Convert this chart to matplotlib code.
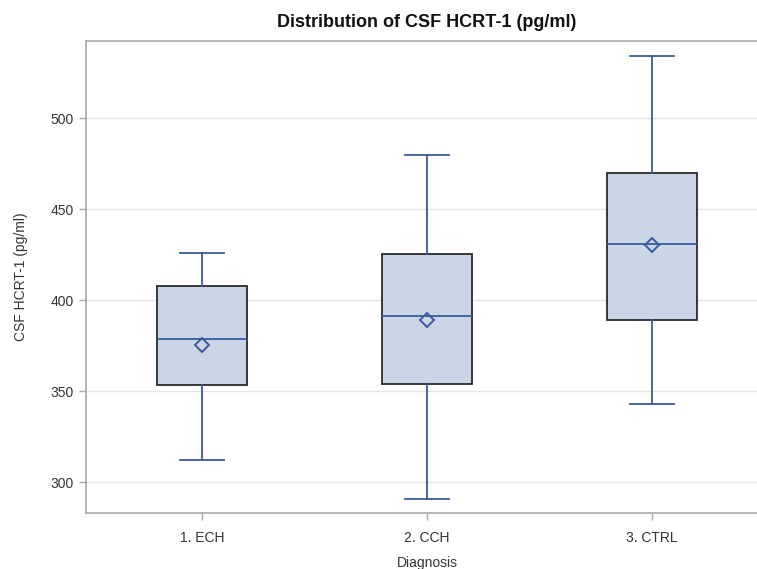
import matplotlib
matplotlib.use("Agg")
import matplotlib.pyplot as plt

categories = ["1. ECH", "2. CCH", "3. CTRL"]
whisker_low = [312, 291, 343]
q1 = [353.5, 354, 389]
median = [378.5, 391.5, 431]
mean = [375.5, 389, 430.5]
q3 = [408, 425.5, 470]
whisker_high = [426, 480, 534]
yticks = [300, 350, 400, 450, 500]

plt.rcParams['font.family'] = ['Liberation Sans', 'DejaVu Sans']

fig = plt.figure(figsize=(7.57, 5.69), dpi=100)
ax = fig.add_axes([86/757, (569-513)/569, (768-86)/757, (513-40.7)/569])

stats = []
for i, c in enumerate(categories):
    stats.append(dict(label=c, whislo=whisker_low[i], q1=q1[i], med=median[i],
                      q3=q3[i], whishi=whisker_high[i], mean=mean[i], fliers=[]))

blue = "#3A5A9E"
ax.bxp(stats, positions=[1, 2, 3], widths=0.4, showmeans=True, showfliers=False,
       patch_artist=True,
       boxprops=dict(facecolor="#CAD5E5", edgecolor="#2A2A2A", linewidth=1.3),
       medianprops=dict(color=blue, linewidth=1.3),
       whiskerprops=dict(color=blue, linewidth=1.3),
       capprops=dict(color=blue, linewidth=1.3),
       capwidths=0.195,
       meanprops=dict(marker='D', markerfacecolor='none', markeredgecolor=blue,
                      markeredgewidth=1.4, markersize=7.5),
       zorder=3)

ax.set_xlim(0.484, 3.516)
ax.set_ylim(283.1, 542.6)
ax.set_yticks(yticks)
ax.set_xticks([1, 2, 3])
ax.set_xticklabels(categories)
ax.yaxis.grid(True, color="#E4E4E4", linewidth=1.0, zorder=0)
ax.set_axisbelow(True)
for s in ax.spines.values():
    s.set_color("#A8A8A8")
    s.set_linewidth(1.2)
ax.tick_params(axis='both', colors="#A8A8A8", labelcolor="#333333", labelsize=10,
               length=5, width=1.0, pad=4)
ax.tick_params(axis='x', pad=8)

ax.set_title("Distribution of CSF HCRT-1 (pg/ml)", fontsize=13, fontweight='bold',
             color="#111111", pad=10)
ax.set_ylabel("CSF HCRT-1 (pg/ml)", fontsize=10, color="#333333", labelpad=16)
ax.set_xlabel("Diagnosis", fontsize=10, color="#333333", labelpad=8)

fig.savefig("out.png", dpi=100)
